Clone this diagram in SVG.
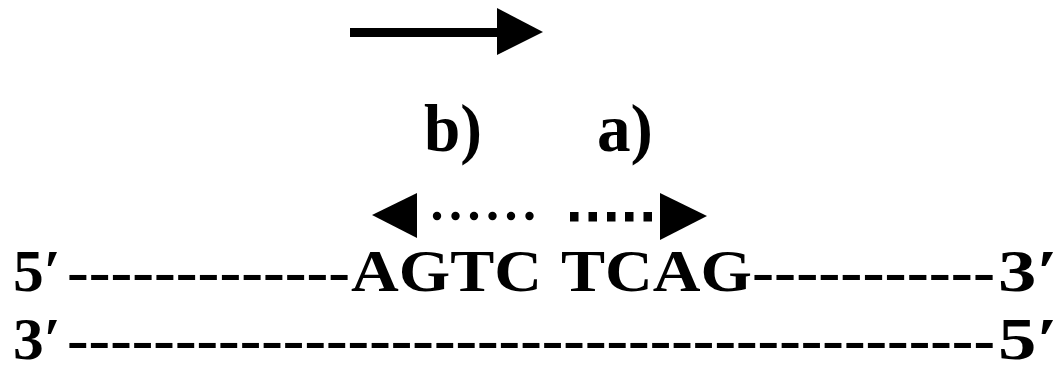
<svg xmlns="http://www.w3.org/2000/svg" width="1060" height="367" viewBox="0 0 1060 367">
<style>
.t{font-family:"Liberation Serif","Times New Roman",serif;font-weight:700;fill:#000;}
.seq{font-size:60px;}
.lbl{font-size:67px;}
</style>
<rect width="1060" height="367" fill="#fff"/>
<g id="connectors">
  <g id="top-arrow">
    <rect x="350" y="28" width="150" height="9" fill="#000"/>
    <polygon points="497,8 543,32 497,55" fill="#000"/>
  </g>
  <g id="arrow-b">
    <polygon points="372,215 417,193 417,238" fill="#000"/>
    <g fill="#000">
      <circle cx="437" cy="216" r="4.2"/>
      <circle cx="455.5" cy="216" r="4.2"/>
      <circle cx="474" cy="216" r="4.2"/>
      <circle cx="492.5" cy="216" r="4.2"/>
      <circle cx="511" cy="216" r="4.2"/>
      <circle cx="529.5" cy="216" r="4.2"/>
    </g>
  </g>
  <g id="arrow-a">
    <g fill="#000">
      <rect x="570" y="212" width="8.5" height="9.5"/>
      <rect x="588.5" y="212" width="8.5" height="9.5"/>
      <rect x="607" y="212" width="8.5" height="9.5"/>
      <rect x="625" y="212" width="8.5" height="9.5"/>
      <rect x="643.5" y="212" width="8.5" height="9.5"/>
    </g>
    <polygon points="660,193 707,216 660,240" fill="#000"/>
  </g>
</g>
<g id="label-b"><text class="t lbl" x="424" y="151" textLength="58" lengthAdjust="spacingAndGlyphs">b)</text></g>
<g id="label-a"><text class="t lbl" x="597" y="151" textLength="56" lengthAdjust="spacingAndGlyphs">a)</text></g>
<g id="strand-top">
  <text class="t seq" x="13" y="291" textLength="48" lengthAdjust="spacingAndGlyphs">5′</text>
  <text class="t seq" x="67" y="291" textLength="283" lengthAdjust="spacingAndGlyphs">-------------</text>
  <text class="t seq" x="351" y="291" textLength="191" lengthAdjust="spacingAndGlyphs">AGTC</text>
  <text class="t seq" x="561" y="291" textLength="191" lengthAdjust="spacingAndGlyphs">TCAG</text>
  <text class="t seq" x="752" y="291" textLength="243" lengthAdjust="spacingAndGlyphs">-----------</text>
  <text class="t seq" x="998" y="291" textLength="60" lengthAdjust="spacingAndGlyphs">3′</text>
</g>
<g id="strand-bottom">
  <text class="t seq" x="13" y="359" textLength="48" lengthAdjust="spacingAndGlyphs">3′</text>
  <text class="t seq" x="67" y="359" textLength="928" lengthAdjust="spacingAndGlyphs">-------------------------------------------</text>
  <text class="t seq" x="998" y="359" textLength="60" lengthAdjust="spacingAndGlyphs">5′</text>
</g>
</svg>
